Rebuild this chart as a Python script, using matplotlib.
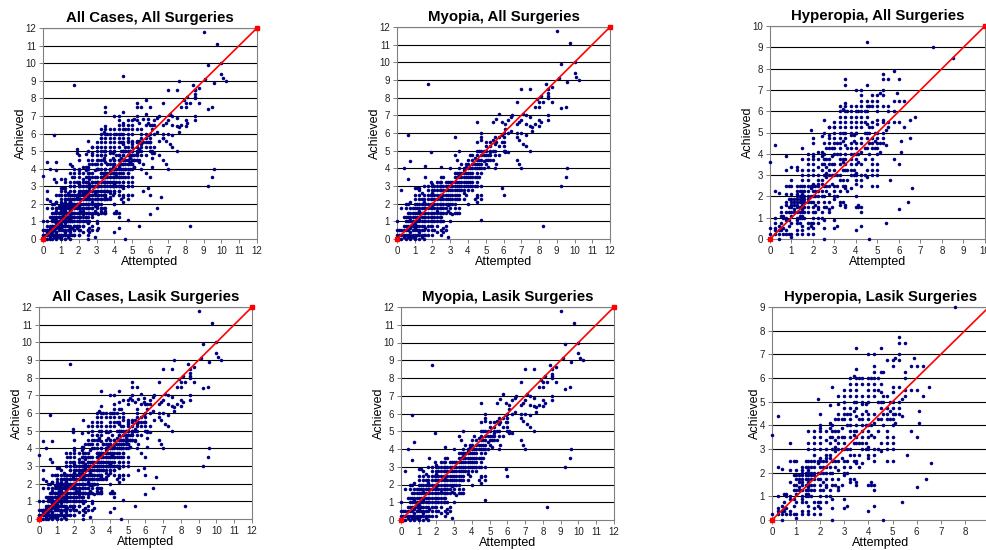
import matplotlib
matplotlib.use("Agg")
import matplotlib.pyplot as plt

plt.rcParams['font.family'] = ['Liberation Sans', 'DejaVu Sans']

# ---------------- data (attempted, [achieved values]) ----------------
myopia_lasik = [
    (0.0, [1.0, 0.5, 0.25]), (0.1, [0.5, 0.25, 0.0]),
    (0.25, [2.75, 1.75, 0.5, 0.25, 0.0]),
    (0.4, [4.0, 1.25, 0.75, 0.5, 0.25, 0.1]),
    (0.5, [2.0, 1.75, 1.25, 1.0, 0.75, 0.5, 0.25, 0.0]),
    (0.6, [5.9, 3.4, 2.0, 1.5, 1.25, 1.0, 0.75, 0.5, 0.25, 0.1]),
    (0.75, [4.4, 2.1, 1.75, 1.5, 1.25, 1.1, 1.0, 0.75, 0.6, 0.4, 0.25, 0.1, 0.0]),
    (0.9, [1.75, 1.5, 1.25, 1.0, 0.9, 0.75, 0.5, 0.25, 0.1]),
    (1.0, [2.9, 2.5, 2.25, 2.0, 1.75, 1.5, 1.25, 1.0, 0.85, 0.75, 0.6, 0.5, 0.25, 0.1, 0.0]),
    (1.1, [2.9, 2.0, 1.75, 1.5, 1.25, 1.0, 0.75, 0.5, 0.25]),
    (1.25, [2.75, 2.5, 2.25, 2.0, 1.75, 1.6, 1.5, 1.25, 1.1, 1.0, 0.75, 0.5, 0.4, 0.25, 0.0]),
    (1.4, [2.6, 2.25, 2.0, 1.75, 1.5, 1.25, 1.0, 0.75, 0.5, 0.25, 0.1]),
    (1.5, [3.0, 2.5, 2.25, 2.1, 2.0, 1.75, 1.5, 1.25, 1.0, 0.75, 0.5, 0.25, 0.0]),
    (1.6, [3.5, 2.0, 1.75, 1.5, 1.25, 1.0, 0.6, 0.25]),
    (1.75, [8.75, 3.0, 2.75, 2.5, 2.25, 2.0, 1.75, 1.5, 1.25, 1.0, 0.75, 0.5, 0.25]),
    (1.9, [4.9, 3.25, 2.5, 2.25, 2.0, 1.75, 1.5, 1.25, 1.0, 0.75]),
    (2.0, [3.1, 3.0, 2.75, 2.6, 2.5, 2.25, 2.0, 1.9, 1.75, 1.5, 1.25, 1.0, 0.75, 0.5, 0.25]),
    (2.1, [3.0, 2.75, 2.5, 2.25, 2.0, 1.75, 1.5, 1.25, 1.0, 0.5]),
    (2.25, [3.25, 3.0, 2.75, 2.5, 2.25, 2.0, 1.75, 1.6, 1.5, 1.25, 1.0, 0.75, 0.4]),
    (2.4, [3.25, 3.0, 2.75, 2.5, 2.25, 2.0, 1.75, 1.5, 1.25, 1.0]),
    (2.5, [4.1, 3.5, 3.25, 3.0, 2.75, 2.5, 2.4, 2.25, 2.0, 1.75, 1.5, 1.25, 1.0, 0.5, 0.25]),
    (2.6, [3.5, 3.0, 2.75, 2.5, 2.25, 2.0, 1.75, 1.5, 1.0, 0.6, 0.4]),
    (2.75, [3.25, 3.0, 2.75, 2.5, 2.25, 2.0, 1.75, 1.5, 0.75, 0.5]),
    (2.9, [3.25, 3.0, 2.75, 2.5, 2.25, 2.0, 1.9, 1.6, 0.1]),
    (3.0, [4.0, 3.25, 3.0, 2.75, 2.5, 2.25, 2.0, 1.75, 1.5, 1.0]),
    (3.1, [3.25, 3.0, 2.75, 2.5, 2.25, 2.0, 1.4]),
    (3.25, [4.75, 3.75, 3.5, 3.25, 3.0, 2.75, 2.5, 2.25, 2.0, 1.75, 1.5]),
    (3.4, [4.5, 3.75, 3.5, 3.25, 3.0, 2.75, 2.5, 2.25, 1.5]),
    (3.5, [5.0, 4.0, 3.75, 3.6, 3.5, 3.25, 3.0, 2.75, 2.5, 2.25, 1.75, 1.5]),
    (3.6, [4.25, 3.75, 3.5, 3.25, 3.0, 2.75]),
    (3.75, [4.0, 3.9, 3.75, 3.5, 3.25, 3.0, 2.75, 2.6, 2.25]),
    (3.9, [4.25, 4.1, 3.75, 3.5, 3.25, 3.0, 2.5]),
    (4.0, [4.5, 4.25, 4.0, 3.75, 3.5, 3.25, 3.0, 2.75, 2.0]),
    (4.1, [4.75, 4.0, 3.75, 3.5, 3.25, 3.0]),
    (4.25, [4.5, 4.25, 4.0, 3.75, 3.5, 3.25, 3.0, 2.75]),
    (4.4, [4.6, 4.25, 4.0, 3.5, 3.0, 2.25]),
    (4.5, [6.6, 5.5, 5.0, 4.75, 4.5, 4.25, 4.0, 3.75, 3.5, 3.25, 3.0, 2.5, 2.4, 2.1]),
    (4.6, [5.0, 4.5, 4.25, 4.0, 3.5]),
    (4.75, [6.0, 5.75, 5.6, 5.0, 4.75, 4.5, 4.25, 4.0, 3.75, 3.0, 2.5, 2.25, 1.1]),
    (4.9, [5.0, 4.75, 4.4, 4.0]),
    (5.0, [5.5, 5.25, 5.0, 4.75, 4.5, 4.25]),
    (5.1, [4.75, 4.5, 4.1]),
    (5.25, [5.5, 5.25, 5.0, 4.9, 4.75, 4.5]),
    (5.4, [6.6, 5.6, 5.0, 4.5]),
    (5.5, [5.75, 5.4, 5.0, 4.75, 4.0]),
    (5.6, [6.8, 5.5, 4.25]),
    (5.75, [7.1, 5.75, 5.25, 4.75]),
    (5.9, [6.6, 5.9, 5.5, 2.9]),
    (6.0, [6.0, 5.75, 5.5, 5.25, 5.0, 2.5]),
    (6.1, [6.5, 6.25, 5.0, 4.9]),
    (6.25, [6.75, 6.0, 4.9]),
    (6.4, [6.9, 6.1]),
    (6.5, [7.0]),
    (6.75, [7.75, 6.5, 6.0, 5.75, 4.5]),
    (6.9, [6.6, 5.6, 4.25]),
    (7.0, [8.5, 6.75, 6.0, 4.0]),
    (7.1, [7.1, 5.4]),
    (7.25, [7.0, 6.5, 5.9, 5.25]),
    (7.5, [8.5, 6.9, 6.4, 5.0]),
    (7.6, [6.35, 6.1]),
    (7.75, [7.5, 6.5]),
    (7.9, [7.9]),
    (8.0, [7.75, 7.5, 6.75, 6.4]),
    (8.1, [8.1, 6.6]),
    (8.25, [7.75, 0.75]),
    (8.4, [8.75]),
    (8.5, [8.5, 8.25, 8.1, 8.0, 7.0, 6.75]),
    (8.75, [8.6, 7.75]),
    (9.0, [11.75]),
    (9.1, [9.1]),
    (9.25, [9.9, 7.4, 3.0]),
    (9.5, [7.5, 3.5]),
    (9.6, [8.9, 4.0]),
    (9.75, [11.1]),
    (10.0, [10.0, 9.4]),
    (10.1, [9.15]),
    (10.25, [9.0]),
]

myopia_other = [
    (1.6, [4.15]), (3.25, [5.75]), (4.25, [4.75]), (1.25, [2.9]),
]

hyperopia_lasik = [
    (0.0, [3.6, 0.25]),
    (0.25, [4.4, 2.25, 1.0, 0.5, 0.4, 0.25]),
    (0.4, [2.15, 0.6, 0.4, 0.25, 0.0]),
    (0.5, [1.1, 0.75, 0.5, 0.4]),
    (0.6, [1.1, 1.0, 0.5, 0.25]),
    (0.75, [3.25, 2.5, 2.1, 1.6, 1.0, 0.9, 0.4, 0.25]),
    (0.9, [2.5, 1.9, 1.5, 1.25, 0.9, 0.6, 0.25]),
    (1.0, [2.5, 2.1, 1.9, 1.75, 1.5, 1.25, 1.1, 0.75, 0.25, 0.1]),
    (1.1, [1.9, 1.75, 1.6, 1.4, 1.25]),
    (1.25, [2.25, 2.1, 2.0, 1.9, 1.75, 1.6, 1.5, 1.25, 1.0, 0.9, 0.75, 0.4, 0.25]),
    (1.4, [2.5, 2.25, 2.0, 1.9, 1.75, 1.5, 1.25, 1.1, 1.0, 0.75]),
    (1.5, [3.75, 3.25, 3.0, 2.5, 2.25, 2.1, 2.0, 1.9, 1.75, 1.6, 1.5, 1.4, 1.25, 1.1, 1.0, 0.6, 0.4, 0.25]),
    (1.6, [2.5, 2.25, 2.0, 1.9, 1.75, 1.5, 1.25, 1.0]),
    (1.75, [3.75, 3.5, 3.25, 3.0, 2.75, 2.5, 2.25, 2.0, 1.9, 1.75, 1.5, 1.25, 0.75, 0.5, 0.25]),
    (1.9, [5.1, 2.5, 2.4, 2.0, 1.75, 0.75, 0.6]),
    (2.0, [4.5, 4.0, 3.9, 3.75, 3.5, 3.25, 3.0, 2.6, 2.5, 2.25, 2.0, 1.75, 1.5, 1.25, 1.0, 0.75, 0.5, 0.25]),
    (2.1, [2.5, 2.25, 2.0, 1.6, 1.25]),
    (2.25, [3.75, 3.4, 3.0, 2.75, 2.6, 2.5, 2.25, 2.0, 1.75, 1.5, 1.4, 1.0, 0.75]),
    (2.4, [4.85, 4.1, 3.9, 3.5, 3.25, 2.75, 2.6, 2.25, 2.0, 1.25, 1.0]),
    (2.5, [5.6, 4.0, 3.75, 3.5, 3.0, 2.5, 2.0, 1.75, 1.5, 0.9, 0.5, 0.0]),
    (2.6, [4.25, 3.75, 3.4, 3.1, 2.9, 2.5, 2.25, 1.5]),
    (2.75, [5.25, 4.9, 4.5, 4.25, 3.75, 3.5, 3.25, 3.0, 2.5, 2.1, 1.75, 1.4, 1.25]),
    (2.9, [4.25, 3.9, 3.5, 3.0, 2.6, 1.5]),
    (3.0, [5.5, 5.25, 5.0, 4.75, 4.5, 4.25, 3.5, 3.25, 3.0, 2.5, 2.25, 2.0, 1.9, 0.9, 0.5]),
    (3.1, [4.5, 4.0, 3.0, 2.5, 2.0, 0.6]),
    (3.25, [6.0, 5.75, 5.5, 5.25, 4.75, 4.5, 4.25, 4.0, 3.75, 3.5, 3.0, 2.75, 2.25, 1.75, 1.6]),
    (3.4, [6.1, 5.0, 4.6, 3.75, 3.6, 3.25, 2.75, 2.5, 1.75]),
    (3.5, [7.25, 6.4, 6.0, 5.75, 5.5, 5.25, 5.0, 4.75, 4.4, 4.0, 3.75, 3.5, 3.25, 2.5, 2.4, 1.6, 1.5]),
    (3.6, [6.0, 4.25, 3.25, 2.75, 2.25]),
    (3.75, [6.0, 5.75, 5.25, 5.0, 4.9, 4.5, 4.25, 4.0, 3.75, 3.5, 3.25, 3.0, 2.4]),
    (3.9, [4.9, 4.6, 4.0, 3.25, 3.0]),
    (4.0, [7.0, 6.0, 5.75, 5.5, 5.25, 5.0, 4.5, 4.25, 4.0, 3.75, 3.5, 3.1, 3.0, 2.75, 2.6, 1.5, 0.4]),
    (4.1, [6.0, 4.0, 3.6, 1.6, 1.5]),
    (4.25, [7.0, 6.5, 6.25, 6.0, 5.75, 5.5, 5.25, 4.5, 4.1, 3.5, 3.0, 2.75, 2.5, 1.5, 1.25, 0.6]),
    (4.4, [6.0, 5.5, 5.0, 4.25, 3.75, 3.0]),
    (4.5, [7.25, 6.25, 5.75, 5.4, 5.0, 4.75, 4.25, 3.25, 2.9]),
    (4.6, [6.25, 5.25, 5.0, 4.5, 4.0, 0.0]),
    (4.75, [6.75, 5.25, 4.75, 4.5, 4.25, 3.75, 3.5, 3.25, 3.0, 2.5]),
    (4.9, [5.0, 4.6, 4.25]),
    (5.0, [6.75, 6.5, 5.6, 5.4, 5.0, 4.75, 4.5, 4.25, 4.0, 3.5, 3.25, 3.0, 2.5]),
    (5.1, [6.85, 4.5, 4.1]),
    (5.25, [7.75, 7.5, 7.0, 6.75, 5.6, 5.0, 4.75, 4.5]),
    (5.4, [5.1, 4.4, 0.75]),
    (5.5, [7.5, 6.25, 6.0, 5.5, 5.25]),
    (5.6, [2.75]),
    (5.75, [6.5, 5.5, 3.75]),
    (5.9, [6.85]),
    (6.0, [6.5, 5.5, 3.5, 1.4]),
    (6.1, [4.6, 4.1]),
    (6.25, [6.5, 5.25]),
    (6.4, [1.75]),
    (6.5, [5.6]),
    (6.6, [2.4]),
    (7.6, [9.0]),
]

hyperopia_other = [
    (0.0, [0.5, 0.0]), (0.25, [0.75]), (0.5, [1.5, 1.25]),
    (0.75, [3.9, 1.75, 1.25]), (1.0, [3.4, 2.75, 1.6]),
    (1.25, [3.4, 3.25, 2.5]), (1.5, [4.25, 2.75]), (1.75, [4.0]),
    (2.0, [4.75]), (2.25, [4.1]), (2.5, [5.0, 4.5]), (2.75, [5.25, 4.75]),
    (3.0, [5.25, 4.0]), (3.25, [6.25, 5.0]), (3.5, [7.5, 6.25]),
    (3.75, [6.25, 5.5]), (4.0, [6.25, 5.0, 2.0]), (4.25, [6.75, 4.75]),
    (4.5, [9.25, 6.5, 6.0]), (4.75, [6.5, 6.25, 5.5]), (5.0, [6.25, 6.0]),
    (5.25, [6.25, 5.5]), (5.75, [7.9, 6.0]), (6.0, [7.5]), (6.5, [4.75]),
    (6.75, [5.75]), (8.5, [8.5]),
]

titles = ["All Cases, All Surgeries", "Myopia, All Surgeries", "Hyperopia, All Surgeries",
          "All Cases, Lasik Surgeries", "Myopia, Lasik Surgeries", "Hyperopia, Lasik Surgeries"]
axis_max = [12, 12, 10, 12, 12, 9]


def expand(*groups):
    xs, ys = [], []
    for g in groups:
        for x, ylist in g:
            for y in ylist:
                xs.append(x)
                ys.append(y)
    return xs, ys


panel_data = [
    expand(myopia_lasik, myopia_other, hyperopia_lasik, hyperopia_other),
    expand(myopia_lasik, myopia_other),
    expand(hyperopia_lasik, hyperopia_other),
    expand(myopia_lasik, hyperopia_lasik),
    expand(myopia_lasik),
    expand(hyperopia_lasik),
]

W, H = 987, 550
# pixel boxes: left, right, top, bottom
boxes = [
    (43, 257, 28, 239),
    (397, 610, 27, 239),
    (770, 985, 26, 239),
    (39, 252, 307, 519),
    (401, 614, 307, 520),
    (772, 989, 307, 520),
]

fig = plt.figure(figsize=(W / 100, H / 100), dpi=100)
fig.patch.set_facecolor('white')

for i in range(6):
    l, r, t, b = boxes[i]
    ax = fig.add_axes([l / W, 1 - b / H, (r - l) / W, (b - t) / H])
    m = axis_max[i]
    ax.set_xlim(0, m)
    ax.set_ylim(0, m)
    ax.set_xticks(range(0, m + 1))
    ax.set_yticks(range(0, m + 1))
    for y in range(1, m + 1):
        ax.axhline(y, color='black', lw=0.8, zorder=1)
    for s in ax.spines.values():
        s.set_color('#808080')
        s.set_linewidth(0.8)
    ax.tick_params(axis='both', direction='out', length=3, width=0.7, color='#808080',
                   labelsize=7, labelcolor='#222222', pad=2)
    xs, ys = panel_data[i]
    ax.scatter(xs, ys, s=6.5, color='#000080', marker='o', linewidths=0, zorder=3, clip_on=False)
    ax.plot([0, m], [0, m], color='#FF0000', lw=1.2, marker='s', ms=3, zorder=4, clip_on=False)
    ax.set_title(titles[i], fontsize=10.8, fontweight='bold', pad=4)
    ax.set_xlabel("Attempted", fontsize=9, labelpad=0)
    ax.set_ylabel("Achieved", fontsize=9, labelpad=-1)

fig.savefig("out.png", dpi=100)
